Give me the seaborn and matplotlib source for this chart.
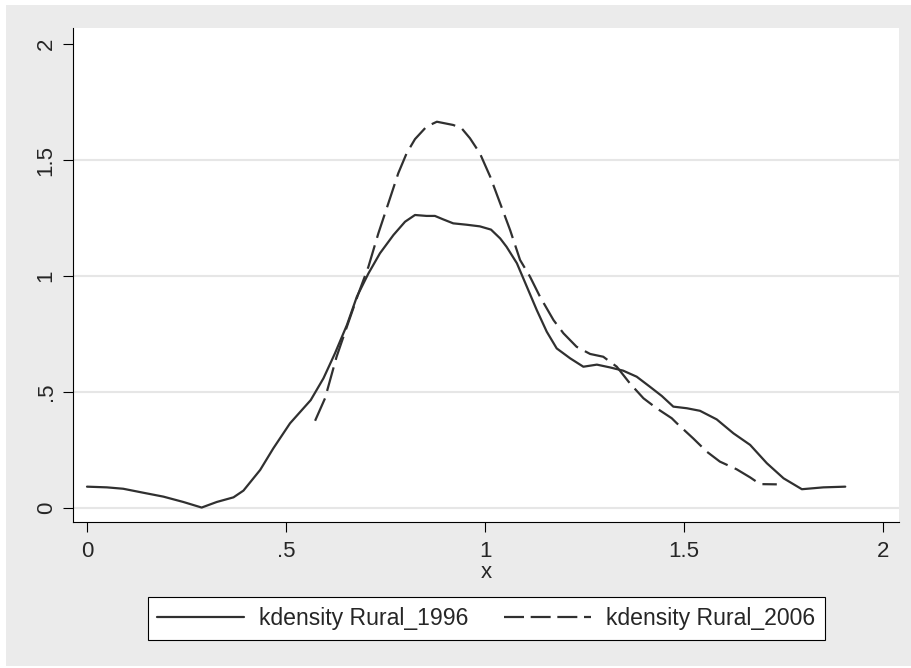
import matplotlib
matplotlib.use("Agg")
import matplotlib.pyplot as plt
import seaborn as sns
from matplotlib.lines import Line2D
from matplotlib.patches import Rectangle

# kdensity Rural_1996
x_1996 = [0.0, 0.05, 0.091, 0.141, 0.192, 0.242, 0.288, 0.326, 0.368, 0.393,
          0.435, 0.468, 0.51, 0.562, 0.594, 0.623, 0.653, 0.678, 0.707, 0.736,
          0.77, 0.799, 0.824, 0.853, 0.874, 0.895, 0.92, 0.954, 0.987, 1.015,
          1.038, 1.054, 1.08, 1.105, 1.13, 1.155, 1.18, 1.214, 1.247, 1.281,
          1.314, 1.347, 1.381, 1.414, 1.444, 1.473, 1.507, 1.54, 1.582, 1.624,
          1.666, 1.708, 1.75, 1.796, 1.85, 1.905]
y_1996 = [0.092, 0.089, 0.083, 0.066, 0.049, 0.026, 0.002, 0.026, 0.046, 0.075,
          0.164, 0.257, 0.365, 0.465, 0.559, 0.667, 0.789, 0.911, 1.011, 1.098,
          1.177, 1.234, 1.263, 1.259, 1.259, 1.244, 1.227, 1.221, 1.214, 1.2,
          1.162, 1.126, 1.055, 0.954, 0.853, 0.76, 0.688, 0.645, 0.609, 0.618,
          0.606, 0.592, 0.566, 0.523, 0.483, 0.437, 0.43, 0.419, 0.382, 0.322,
          0.272, 0.193, 0.128, 0.081, 0.089, 0.092]

# kdensity Rural_2006
x_2006 = [0.573, 0.598, 0.627, 0.653, 0.682, 0.707, 0.732, 0.757, 0.782, 0.803,
          0.824, 0.853, 0.879, 0.92, 0.941, 0.962, 0.987, 1.013, 1.038, 1.063,
          1.088, 1.113, 1.138, 1.172, 1.197, 1.23, 1.264, 1.297, 1.331, 1.364,
          1.398, 1.431, 1.469, 1.482, 1.523, 1.557, 1.59, 1.632, 1.666, 1.691,
          1.733]
y_2006 = [0.376, 0.473, 0.652, 0.782, 0.925, 1.04, 1.184, 1.313, 1.443, 1.529,
          1.59, 1.644, 1.665, 1.651, 1.637, 1.594, 1.529, 1.428, 1.313, 1.198,
          1.069, 0.997, 0.911, 0.81, 0.753, 0.695, 0.664, 0.652, 0.609, 0.537,
          0.473, 0.43, 0.387, 0.365, 0.3, 0.243, 0.2, 0.167, 0.132, 0.103,
          0.102]

x_ticks = [0, 0.5, 1, 1.5, 2]
x_tick_labels = ['0', '.5', '1', '1.5', '2']
y_ticks = [0, 0.5, 1, 1.5, 2]
y_tick_labels = ['0', '.5', '1', '1.5', '2']
labels = ['kdensity Rural_1996', 'kdensity Rural_2006']

sns.set_style("white")
plt.rcParams['font.family'] = ['Liberation Sans', 'DejaVu Sans']

bg = '#EBEBEB'
line_col = '#303030'
dash = (0, (11, 3.5))

fig = plt.figure(figsize=(9.12, 6.68), dpi=100, facecolor='white')
fig.patches.append(Rectangle((6 / 912, 2 / 668), 1, 1 - 7 / 668,
                             transform=fig.transFigure, facecolor=bg,
                             edgecolor='none', zorder=-10))
ax = fig.add_axes([73 / 912, 1 - 522 / 668, (899 - 73) / 912, (522 - 28) / 668])
ax.set_facecolor('white')

sns.lineplot(x=x_1996, y=y_1996, ax=ax, color=line_col, lw=1.6, sort=False,
             estimator=None)
sns.lineplot(x=x_2006, y=y_2006, ax=ax, color=line_col, lw=1.6, sort=False,
             estimator=None, linestyle=dash)

# grid lines (stata style, no line at the top tick)
for yv in y_ticks[:-1]:
    ax.axhline(yv, color='#E6E6E6', lw=1.5, zorder=0)

ax.set_xlim(-0.0352, 2.040)
ax.set_ylim(-0.0603, 2.069)
ax.set_xticks(x_ticks, x_tick_labels, fontsize=16)
ax.set_yticks(y_ticks, y_tick_labels, fontsize=16, rotation=90, va='center')
ax.tick_params(axis='both', direction='out', length=7.2, width=0.8, color='black',
               left=True, bottom=True)
ax.tick_params(axis='x', pad=6.5)
ax.tick_params(axis='y', pad=4.5)
ax.set_xlabel('x', fontsize=16, labelpad=-0.3)
ax.set_ylabel('')

for s in ['top', 'right']:
    ax.spines[s].set_visible(False)
for s in ['left', 'bottom']:
    ax.spines[s].set_color('black')
    ax.spines[s].set_linewidth(0.8)

handles = [Line2D([], [], color=line_col, lw=1.6),
           Line2D([], [], color=line_col, lw=1.6, linestyle=(0, (9, 3)))]
leg = fig.legend(handles, labels, loc='center', bbox_to_anchor=(486.5 / 912, 1 - 618.5 / 668),
                 ncol=2, fontsize=16.6, frameon=True, fancybox=False, handlelength=3.77,
                 handletextpad=0.65, columnspacing=1.55, borderpad=0.42)
leg.get_frame().set_edgecolor('black')
leg.get_frame().set_linewidth(0.8)
leg.get_frame().set_facecolor('white')
leg.get_frame().set_alpha(1)

plt.savefig("out.png", dpi=100, facecolor=fig.get_facecolor())
